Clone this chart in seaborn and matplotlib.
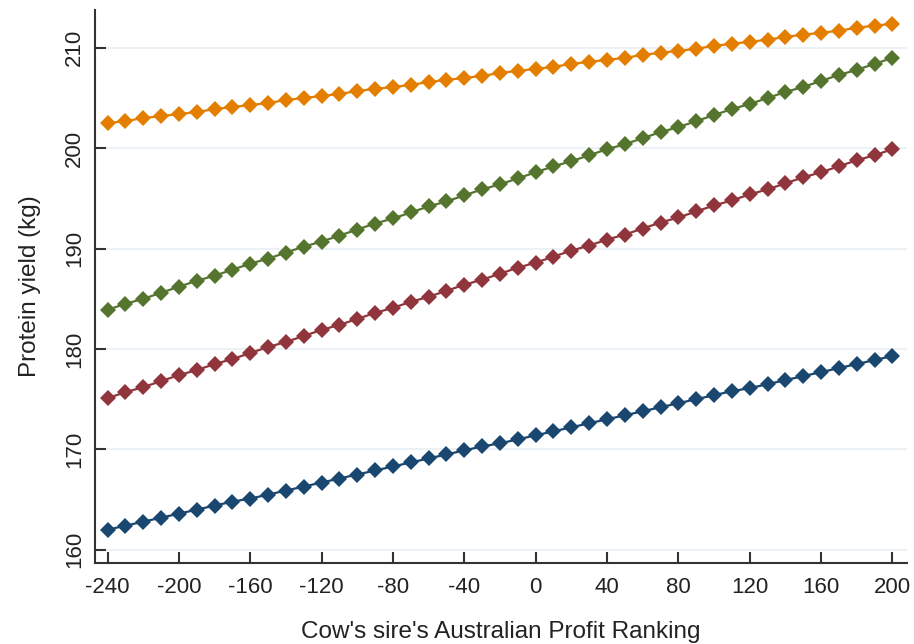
import pandas as pd
import matplotlib
matplotlib.use("Agg")
import matplotlib.pyplot as plt
import seaborn as sns

# sire APR values on x axis
apr = [-240, -230, -220, -210, -200, -190, -180, -170, -160, -150, -140, -130,
       -120, -110, -100, -90, -80, -70, -60, -50, -40, -30, -20, -10, 0,
       10, 20, 30, 40, 50, 60, 70, 80, 90, 100, 110, 120, 130, 140, 150,
       160, 170, 180, 190, 200]

blue = [162.0, 162.4, 162.8, 163.2, 163.6, 164.0, 164.4, 164.8, 165.1, 165.5,
        165.9, 166.3, 166.7, 167.1, 167.5, 167.9, 168.3, 168.7, 169.1, 169.5,
        169.9, 170.3, 170.6, 171.0, 171.4, 171.8, 172.2, 172.6, 173.0, 173.4,
        173.8, 174.2, 174.6, 175.0, 175.4, 175.8, 176.1, 176.5, 176.9, 177.3,
        177.7, 178.1, 178.5, 178.9, 179.3]
red = [175.1, 175.7, 176.2, 176.8, 177.4, 177.9, 178.5, 179.0, 179.6, 180.2,
       180.7, 181.3, 181.9, 182.4, 183.0, 183.6, 184.1, 184.7, 185.2, 185.8,
       186.4, 186.9, 187.5, 188.1, 188.6, 189.2, 189.8, 190.3, 190.9, 191.4,
       192.0, 192.6, 193.1, 193.7, 194.3, 194.8, 195.4, 195.9, 196.5, 197.1,
       197.6, 198.2, 198.8, 199.3, 199.9]
green = [183.9, 184.5, 185.0, 185.6, 186.2, 186.8, 187.3, 187.9, 188.5, 189.0,
         189.6, 190.2, 190.7, 191.3, 191.9, 192.5, 193.0, 193.6, 194.2, 194.7,
         195.3, 195.9, 196.4, 197.0, 197.6, 198.2, 198.7, 199.3, 199.9, 200.4,
         201.0, 201.6, 202.1, 202.7, 203.3, 203.9, 204.4, 205.0, 205.6, 206.1,
         206.7, 207.3, 207.8, 208.4, 209.0]
orange = [202.5, 202.7, 203.0, 203.2, 203.4, 203.6, 203.9, 204.1, 204.3, 204.5,
          204.8, 205.0, 205.2, 205.4, 205.7, 205.9, 206.1, 206.3, 206.6, 206.8,
          207.0, 207.2, 207.5, 207.7, 207.9, 208.1, 208.4, 208.6, 208.8, 209.0,
          209.3, 209.5, 209.7, 209.9, 210.2, 210.4, 210.6, 210.8, 211.1, 211.3,
          211.5, 211.7, 212.0, 212.2, 212.4]

series = {"blue": blue, "red": red, "green": green, "orange": orange}
colors = {"blue": "#1a476f", "red": "#90353b", "green": "#55752f", "orange": "#e37e00"}

rows = []
for name, vals in series.items():
    for x, y in zip(apr, vals):
        rows.append({"apr": x, "protein": y, "group": name})
df = pd.DataFrame(rows)

sns.set_style("white")
plt.rcParams["font.family"] = ["Liberation Sans", "DejaVu Sans"]
plt.rcParams["axes.unicode_minus"] = False

fig = plt.figure(figsize=(9.14, 6.44), dpi=100)
ax = fig.add_axes([0.104, 0.126, 0.888, 0.859])

for y in [160, 170, 180, 190, 200, 210]:
    ax.axhline(y, color="#e8eff3", lw=1.2, zorder=0)

sns.lineplot(data=df, x="apr", y="protein", hue="group", palette=colors,
             marker="D", markersize=8.5, markeredgewidth=0, linewidth=1.6,
             legend=False, ax=ax)

ax.set_xlim(-247, 208)
ax.set_ylim(158.7, 213.8)
ax.set_xticks(range(-240, 201, 40))
ax.set_yticks([160, 170, 180, 190, 200, 210])
ax.tick_params(axis="both", direction="in", length=8, width=1.5,
               color="#333333", labelsize=16, labelcolor="#222222", bottom=True, left=True)
ax.tick_params(axis="x", pad=10)
ax.tick_params(axis="y", pad=7)
for lab in ax.get_yticklabels():
    lab.set_rotation(90)
    lab.set_va("center")
ax.set_xlabel("Cow's sire's Australian Profit Ranking", fontsize=17.5, labelpad=17, color="#222222")
ax.set_ylabel("Protein yield (kg)", fontsize=17.5, labelpad=17, color="#222222")

sns.despine(ax=ax)
for s in ["left", "bottom"]:
    ax.spines[s].set_color("#333333")
    ax.spines[s].set_linewidth(1.5)

fig.savefig("out.png", dpi=100)
